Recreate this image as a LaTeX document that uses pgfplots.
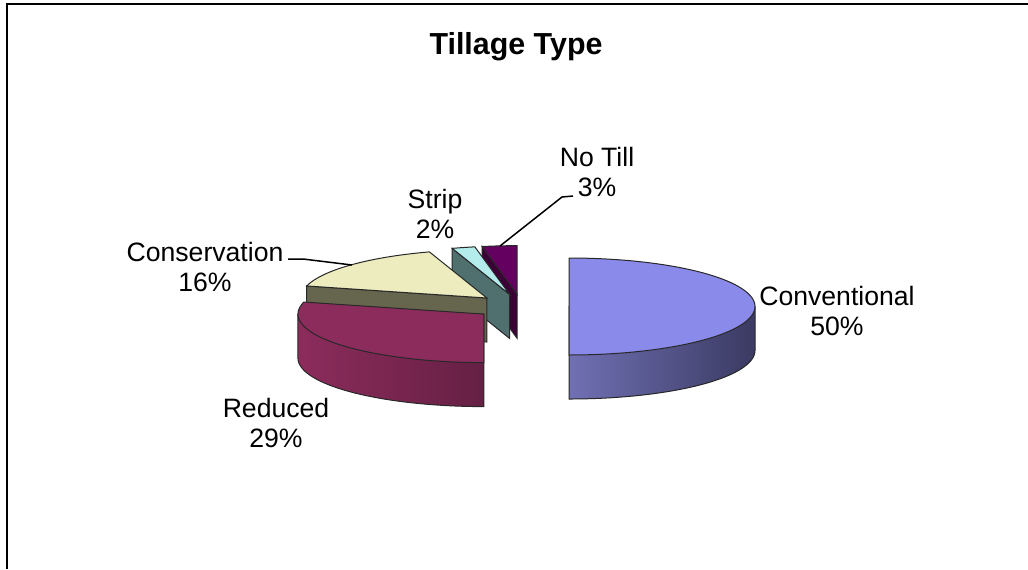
\documentclass[border=0pt]{standalone}
\usepackage{fontspec}
\setmainfont{Liberation Sans}
\usepackage{pgfplots}
\usepackage{pgfplotstable}
\pgfplotsset{compat=1.18}

\definecolor{convTop}{RGB}{138,138,234}
\definecolor{convL}{RGB}{112,112,180}
\definecolor{convR}{RGB}{58,58,98}
\definecolor{redTop}{RGB}{140,44,92}
\definecolor{redL}{RGB}{140,44,92}
\definecolor{redR}{RGB}{102,32,68}
\definecolor{consTop}{RGB}{236,236,190}
\definecolor{consWall}{RGB}{102,102,78}
\definecolor{stripTop}{RGB}{180,236,236}
\definecolor{stripWall}{RGB}{80,112,112}
\definecolor{ntTop}{RGB}{100,0,95}
\definecolor{ntWall}{RGB}{60,0,55}
\definecolor{edge}{RGB}{40,40,40}

\pgfplotstableread{
name value
Conventional 50
Reduced 29
Conservation 16
Strip 2
NoTill 3
}\tillage

% geometry in pixels
\def\bx{521.5}\def\by{306.5}\def\rx{186}\def\ry{48.5}\def\D{44}\def\ex{47.5}\def\ey{12.4}

\newcommand\drawslice[6]{%
 \pgfmathsetmacro\slmid{(#1+#2)/2}%
 \pgfmathsetmacro\slcx{\bx+\ex*sin(\slmid)}%
 \pgfmathsetmacro\slcy{\by-\ey*cos(\slmid)}%
 \pgfmathsetmacro\slcyb{\slcy+\D}%
 \pgfmathsetmacro\slp{max(#1,90)}%
 \pgfmathsetmacro\slq{min(#2,270)}%
 \ifdim\slp pt<\slq pt
  \pgfmathsetmacro\slpx{\slcx+\rx*sin(\slp)}%
  \pgfmathsetmacro\slpy{\slcy-\ry*cos(\slp)}%
  \pgfmathsetmacro\slqx{\slcx+\rx*sin(\slq)}%
  \pgfmathsetmacro\slqy{\slcy-\ry*cos(\slq)}%
  \edef\sltmp{\noexpand\addplot[draw=edge,line width=0.5pt,left color=#4,right color=#5,domain=\slp:\slq,samples=90]
   ({\slcx+\rx*sin(x)},{\slcyb-\ry*cos(x)}) -- (axis cs:\slqx,\slqy) -- (axis cs:\slcx,\slcy) -- (axis cs:\slpx,\slpy) -- cycle;}\sltmp
 \fi
 \pgfmathsetmacro\slsa{sin(#1)}%
 \ifdim\slsa pt<-0.01pt
  \pgfmathsetmacro\slpx{\slcx+\rx*sin(#1)}%
  \pgfmathsetmacro\slpy{\slcy-\ry*cos(#1)}%
  \pgfmathsetmacro\slpyb{\slpy+\D}%
  \edef\sltmp{\noexpand\addplot[draw=edge,line width=0.5pt,fill=#6] coordinates {(\slcx,\slcy) (\slpx,\slpy) (\slpx,\slpyb) (\slcx,\slcyb)} -- cycle;}\sltmp
 \fi
 \pgfmathsetmacro\slsb{sin(#2)}%
 \ifdim\slsb pt>0.01pt
  \pgfmathsetmacro\slpx{\slcx+\rx*sin(#2)}%
  \pgfmathsetmacro\slpy{\slcy-\ry*cos(#2)}%
  \pgfmathsetmacro\slpyb{\slpy+\D}%
  \edef\sltmp{\noexpand\addplot[draw=edge,line width=0.5pt,fill=#6] coordinates {(\slcx,\slcy) (\slpx,\slpy) (\slpx,\slpyb) (\slcx,\slcyb)} -- cycle;}\sltmp
 \fi
 \edef\sltmp{\noexpand\addplot[draw=edge,line width=0.5pt,fill=#3,domain=#1:#2,samples=90]
   ({\slcx+\rx*sin(x)},{\slcy-\ry*cos(x)}) -- (axis cs:\slcx,\slcy) -- cycle;}\sltmp
}

\begin{document}
\pgfplotstablegetelem{0}{value}\of\tillage\pgfmathsetmacro\aB{3.6*\pgfplotsretval}%
\pgfplotstablegetelem{1}{value}\of\tillage\pgfmathsetmacro\aC{\aB+3.6*\pgfplotsretval}%
\pgfplotstablegetelem{2}{value}\of\tillage\pgfmathsetmacro\aD{\aC+3.6*\pgfplotsretval}%
\pgfplotstablegetelem{3}{value}\of\tillage\pgfmathsetmacro\aE{\aD+3.6*\pgfplotsretval}%
\pgfplotstablegetelem{4}{value}\of\tillage\pgfmathsetmacro\aF{\aE+3.6*\pgfplotsretval}%
\begin{tikzpicture}
\begin{axis}[
  width=514pt, height=284.5pt, scale only axis,
  xmin=0, xmax=1028, ymin=0, ymax=569, y dir=reverse,
  hide axis, clip=false,
]
\drawslice{\aE}{\aF}{ntTop}{ntWall}{ntWall}{ntWall}
\drawslice{\aD}{\aE}{stripTop}{stripWall}{stripWall}{stripWall}
\drawslice{\aC}{\aD}{consTop}{consWall}{consWall}{consWall}
\drawslice{\aB}{\aC}{redTop}{redL}{redR}{redR}
\drawslice{0}{\aB}{convTop}{convL}{convR}{convR}

\draw[line width=1pt] (axis cs:7,569) -- (axis cs:7,4) -- (axis cs:1028,4);

\node[font=\fontsize{15.2}{18}\selectfont\bfseries] at (axis cs:516,47) {Tillage Type};
\tikzset{lab/.style={align=center,font=\fontsize{13.3}{15.2}\selectfont,inner sep=0pt}}
\node[lab] at (axis cs:837,311) {Conventional\\50\%};
\node[lab] at (axis cs:276,423) {Reduced\\29\%};
\node[lab] at (axis cs:205,267) {Conservation\\16\%};
\node[lab] at (axis cs:435,214) {Strip\\2\%};
\node[lab] at (axis cs:597,172) {No Till\\3\%};
\draw[line width=0.75pt] (axis cs:288,259) -- (axis cs:303,259) -- (axis cs:352,265);
\draw[line width=0.75pt] (axis cs:573,196) -- (axis cs:562,197) -- (axis cs:500,246);
\end{axis}
\pgfresetboundingbox
\useasboundingbox (current axis.south west) rectangle (current axis.north east);
\end{tikzpicture}
\end{document}
